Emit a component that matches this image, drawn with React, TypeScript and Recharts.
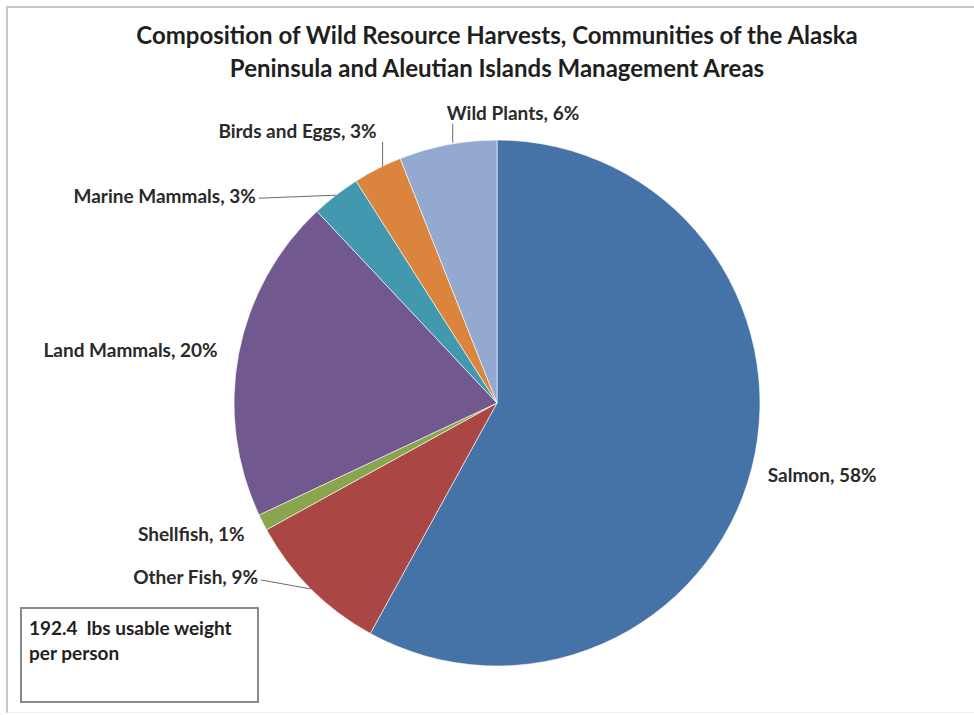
import { PieChart, Pie, Cell } from "recharts";

const categories = [
  "Salmon",
  "Other Fish",
  "Shellfish",
  "Land Mammals",
  "Marine Mammals",
  "Birds and Eggs",
  "Wild Plants",
];
const shares = [58, 9, 1, 20, 3, 3, 6];
const colors = ["#4572A7", "#AA4643", "#89A54E", "#71588F", "#4198AF", "#DB843D", "#93A9CF"];

const data = categories.map((name, i) => ({ name, value: shares[i] }));

// where each label sits relative to the slice's outer edge point
const labelPos: Record<string, { dx: number; dy: number; anchor: "start" | "end"; line?: "side" | "up" }> = {
  Salmon: { dx: 16, dy: 6, anchor: "start" },
  "Other Fish": { dx: -53, dy: -12, anchor: "end", line: "side" },
  Shellfish: { dx: -18, dy: 11, anchor: "end" },
  "Land Mammals": { dx: -21, dy: -4, anchor: "end" },
  "Marine Mammals": { dx: -80, dy: 0, anchor: "end", line: "side" },
  "Birds and Eggs": { dx: -1, dy: -38, anchor: "end", line: "up" },
  "Wild Plants": { dx: -1, dy: -32, anchor: "start", line: "up" },
};

const FONT = "Lato, 'Open Sans', sans-serif";
const RAD = Math.PI / 180;

function SliceLabel(props: any) {
  const { cx, cy, midAngle, outerRadius, name, value } = props;
  const ex = cx + outerRadius * Math.cos(-midAngle * RAD);
  const ey = cy + outerRadius * Math.sin(-midAngle * RAD);
  const p = labelPos[name];
  const tx = ex + p.dx;
  const ty = ey + p.dy;
  let line = null;
  if (p.line === "side") {
    line = <polyline points={`${tx + 3},${ty + 3} ${ex},${ey}`} fill="none" stroke="#6b6b6b" strokeWidth={1} />;
  } else if (p.line === "up") {
    line = <line x1={ex + 5} y1={ty + 11} x2={ex + 5} y2={ey - 2} stroke="#6b6b6b" strokeWidth={1} />;
  }
  return (
    <g>
      {line}
      <text
        x={tx}
        y={ty}
        textAnchor={p.anchor}
        dominantBaseline="central"
        fontFamily={FONT}
        fontWeight={700}
        fontSize={19}
        fill="#2a2a2a"
      >
        {`${name}, ${value}%`}
      </text>
    </g>
  );
}

export default function App() {
  return (
    <div
      style={{
        position: "absolute",
        left: 0,
        top: 0,
        width: 974,
        height: 715,
        background: "#fff",
        overflow: "hidden",
        fontFamily: FONT,
      }}
    >
      <div
        style={{
          position: "absolute",
          left: 6,
          top: 6,
          width: 980,
          height: 704,
          borderLeft: "2px solid #c8c8c8",
          borderTop: "2px solid #c8c8c8",
          borderBottom: "1px solid #eeeeee",
        }}
      />
      <div
        style={{
          position: "absolute",
          left: 0,
          width: 994,
          top: 18,
          textAlign: "center",
          fontWeight: 700,
          fontSize: 24,
          lineHeight: "33px",
          color: "#1f1f1f",
        }}
      >
        Composition of Wild Resource Harvests, Communities of the Alaska
        <br />
        Peninsula and Aleutian Islands Management Areas
      </div>
      <div style={{ position: "absolute", left: 0, top: 0 }}>
        <PieChart width={974} height={715} margin={{ top: 0, right: 0, bottom: 0, left: 0 }}>
          <Pie
            data={data}
            dataKey="value"
            nameKey="name"
            cx={497}
            cy={403}
            outerRadius={263}
            startAngle={90}
            endAngle={-270}
            stroke="#ffffff"
            strokeWidth={0.6}
            label={SliceLabel}
            labelLine={false}
            isAnimationActive={false}
          >
            {data.map((d, i) => (
              <Cell key={d.name} fill={colors[i]} />
            ))}
          </Pie>
        </PieChart>
      </div>
      <div
        style={{
          position: "absolute",
          left: 20,
          top: 607,
          width: 239,
          height: 96,
          border: "2px solid #8a8a8a",
          padding: "6px 0 0 7px",
          boxSizing: "border-box",
          fontWeight: 700,
          fontSize: 19,
          lineHeight: "25px",
          color: "#1f1f1f",
          whiteSpace: "pre",
        }}
      >
        {"192.4  lbs usable weight\nper person"}
      </div>
    </div>
  );
}
